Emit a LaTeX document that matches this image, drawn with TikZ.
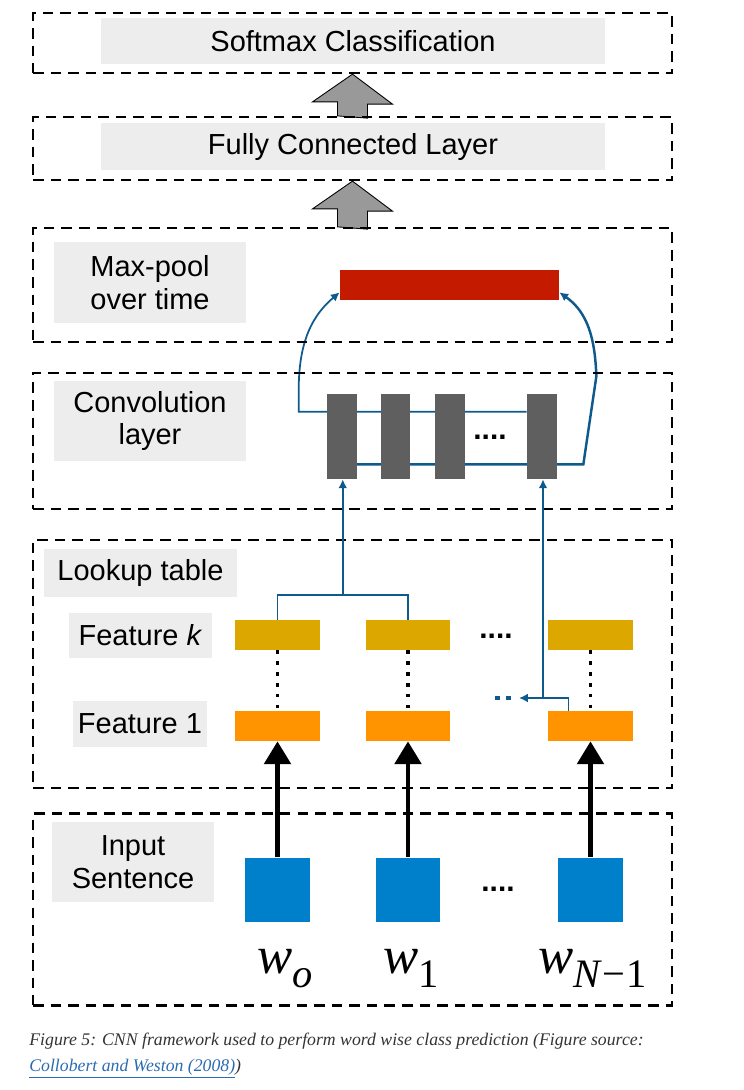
\documentclass[tikz,border=0pt]{standalone}
\usepackage{fontspec}
\setmainfont{Liberation Sans}
\newfontfamily\wfont{Liberation Serif}
\usetikzlibrary{arrows.meta,calc,backgrounds}
\definecolor{labgrey}{HTML}{EDEDED}
\definecolor{poolred}{HTML}{C41A00}
\definecolor{convgrey}{HTML}{5F5F5F}
\definecolor{featyellow}{HTML}{DCA800}
\definecolor{featorange}{HTML}{FF9400}
\definecolor{wordblue}{HTML}{0080CB}
\definecolor{linkblue}{HTML}{0F5A8C}
\definecolor{fatgrey}{HTML}{999999}
\definecolor{capgrey}{HTML}{333333}
\definecolor{reflink}{HTML}{2B6CB0}
\begin{document}
\begin{tikzpicture}[x=0.02cm,y=-0.02cm,>=Latex,
  layer/.style={draw,dash pattern=on 6pt off 4pt,line width=1.3pt,minimum width=12.78cm,inner sep=0pt},
  lab/.style={fill=labgrey,align=center,inner sep=0pt,font=\fontsize{16.5}{18.5}\selectfont},
  feat/.style={minimum width=1.7cm,minimum height=0.6cm,inner sep=0pt},
  cbar/.style={fill=convgrey,minimum width=0.6cm,minimum height=1.7cm,inner sep=0pt},
  word/.style={fill=wordblue,minimum width=1.3cm,minimum height=1.28cm,inner sep=0pt},
  ba/.style={-{Latex[length=5pt,width=5pt]},line width=1pt,linkblue},
  fat/.style={fill=fatgrey,draw=black,line width=0.5pt},
  wa/.style={-{Triangle[length=13pt,width=15pt]},line width=2.6pt},
  dots/.style={font=\fontsize{17}{17}\selectfont\bfseries,inner sep=0pt},
  vdots/.style={line width=2pt,dash pattern=on 2pt off 4.2pt},
  wl/.style={anchor=base west,inner sep=0pt,font=\wfont\itshape\fontsize{30}{30}\selectfont},
  captxt/.style={anchor=base west,inner sep=0pt,text=capgrey,font=\wfont\itshape\fontsize{10.1}{12}\selectfont}]
\useasboundingbox (0,0) rectangle (744,1090);
\node[layer,minimum height=1.2cm] (softbox) at (352.5,43) {};
\node[layer,minimum height=1.26cm] (fcbox) at (352.5,148.5) {};
\node[layer,minimum height=2.28cm] (poolbox) at (352.5,285) {};
\node[layer,minimum height=2.72cm] (convbox) at (352.5,441) {};
\node[layer,minimum height=4.96cm] (lookbox) at (352.5,664) {};
\node[layer,minimum height=3.84cm] (inbox) at (352.5,909.5) {};
\node[lab,minimum width=10.08cm,minimum height=0.92cm] (softlab) at (353,41) {Softmax Classification};
\node[lab,minimum width=10.08cm,minimum height=0.94cm] (fclab) at (353,146.5) {Fully Connected Layer};
\node[lab,minimum width=3.84cm,minimum height=1.62cm] (poollab) at (150,282.5) {Max-pool\\over time};
\node[lab,minimum width=3.84cm,minimum height=1.6cm] (convlab) at (150,421) {Convolution\\layer};
\node[lab,minimum width=3.86cm,minimum height=0.96cm] (looklab) at (140.5,573) {Lookup table};
\node[lab,minimum width=2.86cm,minimum height=0.9cm] (fklab) at (140.5,635.5) {Feature \textit{k}};
\node[lab,minimum width=2.68cm,minimum height=0.92cm] (f1lab) at (140,724) {Feature 1};
\node[lab,minimum width=3.24cm,minimum height=1.6cm] (inlab) at (133,862) {Input\\Sentence};
\node[fill=poolred,minimum width=4.38cm,minimum height=0.6cm,inner sep=0pt] (pool) at (449.5,285) {};
\foreach \n/\x in {1/342,2/395.5,3/450,4/542} \node[cbar] (cv\n) at (\x,436.5) {};
\node[dots] (cvdots) at (490,437) {....};
\foreach \n/\x in {1/277.5,2/408,3/590.5} {
  \node[feat,fill=featyellow] (fk\n) at (\x,635) {};
  \node[feat,fill=featorange] (fo\n) at (\x,726) {};
  \node[word] (wd\n) at (\x,889.5) {};
  \draw[vdots] (fk\n.south) -- (fo\n.north);
  \draw[wa] (wd\n.north) -- (fo\n.south);
}
\node[dots] (lkdots) at (496,636) {....};
\node[dots] (indots) at (498,889) {....};
\begin{scope}[on background layer]
\draw[fat] (fcbox.north) ++(-15,0) -- ++(0,-14) -- ++(-25,0) -- (softbox.south) -- ++(40,30) -- ++(-25,0) -- ++(0,14) -- cycle;
\draw[fat] (poolbox.north) ++(-15,0) -- ++(0,-18) -- ++(-25,0) -- (fcbox.south) -- ++(40,30) -- ++(-25,0) -- ++(0,18) -- cycle;
\draw[ba] ($(cv4.north west)+(0,18)$) -- ($(cv1.north west)+(-28,18)$) -- ++(0,-20) to[out=90,in=220] ($(pool.south west)+(0,-8)$);
\draw[ba,line width=1.4pt] ($(cv1.south east)+(-5,-15)$) -- ($(cv4.south east)+(26,-15)$) -- ++(13,-88) to[out=92,in=-35] ($(pool.south east)+(0,-8)$);
\end{scope}
\coordinate (j1) at ($(fk1.north)!0.5!(fk2.north)+(0,-25)$);
\coordinate (j2) at (543,698);
\coordinate (e2) at (519,698);
\draw[linkblue,line width=1pt] (fk1.north) |- (j1) -| (fk2.north);
\draw[ba] (j1) -- (j1 |- cv1.south);
\draw[ba] ($(fo3.north)+(-22,0)$) |- (e2);
\draw[ba] (j2) -- (j2 |- cv4.south);
\draw[linkblue,line width=2.2pt,dash pattern=on 2.8pt off 3.4pt] (e2) ++(-8,0) -- ++(-16,0);
\node[wl] (w0) at (257,973) {w\raisebox{-8.5pt}{\fontsize{23}{23}\selectfont o}};
\node[wl] (w1) at (383,973) {w\raisebox{-8.5pt}{\fontsize{23}{23}\selectfont\upshape 1}};
\node[wl] (w2) at (538,973) {w\raisebox{-8.5pt}{\fontsize{23}{23}\selectfont N\upshape\kern1pt−\kern1pt1}};
\node[captxt] (cap1) at (29,1045) {Figure 5: CNN framework used to perform word wise class prediction (Figure source:};
\node[captxt] (cap2) at (29,1071) {\textcolor{reflink}{\underline{Collobert and Weston (2008)}})};
\end{tikzpicture}
\end{document}
